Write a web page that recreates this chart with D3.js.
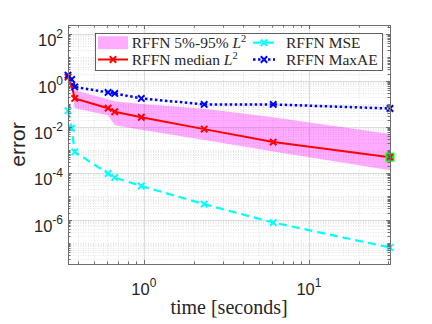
<!DOCTYPE html>
<html lang="en">
<head>
    <meta charset="UTF-8">
    <title>RFFN error vs time</title>
    <style>
        body {
            margin: 0;
            background: #fff;
        }

        svg {
            display: block;
        }
    </style>
</head>
<body>
    <div id="chart"></div>

    <script src="https://d3js.org/d3.v7.min.js"></script>
    <script>
        // training time of each run (seconds)
        const times = [0.347, 0.365, 0.381, 0.607, 0.666, 0.965, 2.32, 6.08, 31.0]
        // L2 error, median and 5% / 95% quantiles
        const medianL2 = [1.40, 0.63, 0.169, 0.064, 0.045, 0.026, 0.008, 0.0022, 0.00049]
        const q05L2 = [1.27, 0.57, 0.064, 0.032, 0.0118, 0.0075, 0.0027, 0.00086, 0.000135]
        const q95L2 = [1.55, 0.70, 0.385, 0.157, 0.129, 0.096, 0.060, 0.026, 0.0049]
        const mse = [0.050, 0.0088, 8.3e-4, 9.7e-5, 6.5e-5, 2.8e-5, 4.6e-6, 7.4e-7, 6.2e-8]
        const maxAE = [1.71, 1.12, 0.53, 0.306, 0.277, 0.169, 0.093, 0.093, 0.062]
        // highlighted run
        const bestIndex = 8

        const xMajorTicks = [1, 10]
        const yMajorTicks = [1e-6, 1e-4, 1e-2, 1, 1e2]

        const legendLabels = [
            ['RFFN 5%-95% ', 'L', '2'],
            ['RFFN median ', 'L', '2'],
            ['RFFN MSE'],
            ['RFFN MaxAE']
        ]

        const width = 432
        const height = 324
        const plot = { left: 68, right: 390, top: 25, bottom: 264 }
        const axisColor = '#6e6e6e'
        const majorGridColor = '#dcdcdc'
        const minorGridColor = '#e6e6e6'
        const sansFont = '"Liberation Sans", Arial, sans-serif'
        const serifFont = '"Liberation Serif", "Times New Roman", serif'

        // half pixel so 1px lines stay crisp
        const px = v => Math.round(v) + 0.5

        const x = d3.scaleLog()
            .domain([0.347, 31.0])
            .range([plot.left, plot.right])

        const y = d3.scaleLog()
            .domain([1.2e-8, 250])
            .range([plot.bottom, plot.top])

        const svg = d3.select('#chart')
            .append('svg')
            .attr('width', width)
            .attr('height', height)

        const xMinorTicks = minorTicks(x, xMajorTicks)
        const yMinorTicks = minorTicks(y, yMajorTicks)

        drawGrid()
        drawChart()
        drawAxes()
        drawLegend()

        function minorTicks(scale, majors) {
            const [lo, hi] = scale.domain()
            const out = []
            for (let e = Math.floor(Math.log10(lo)); e <= Math.ceil(Math.log10(hi)); e++) {
                for (let k = 1; k <= 9; k++) {
                    const v = k * Math.pow(10, e)
                    if (v < lo || v > hi) continue
                    if (majors.some(m => Math.abs(m - v) / m < 1e-9)) continue
                    out.push(v)
                }
            }
            return out
        }

        function drawGrid() {
            const g = svg.append('g').attr('class', 'grid').attr('fill', 'none')

            g.selectAll('.xminor').data(xMinorTicks).enter().append('line')
                .attr('x1', d => px(x(d))).attr('x2', d => px(x(d)))
                .attr('y1', plot.top).attr('y2', plot.bottom)
                .attr('stroke', minorGridColor).attr('stroke-dasharray', '1,1.5')

            g.selectAll('.yminor').data(yMinorTicks).enter().append('line')
                .attr('y1', d => px(y(d))).attr('y2', d => px(y(d)))
                .attr('x1', plot.left).attr('x2', plot.right)
                .attr('stroke', minorGridColor).attr('stroke-dasharray', '1,1.5')

            g.selectAll('.xmajor').data(xMajorTicks).enter().append('line')
                .attr('x1', d => px(x(d))).attr('x2', d => px(x(d)))
                .attr('y1', plot.top).attr('y2', plot.bottom)
                .attr('stroke', majorGridColor)

            g.selectAll('.ymajor').data(yMajorTicks).enter().append('line')
                .attr('y1', d => px(y(d))).attr('y2', d => px(y(d)))
                .attr('x1', plot.left).attr('x2', plot.right)
                .attr('stroke', majorGridColor)
        }

        function crossPath(s) {
            return `M${-s},${-s}L${s},${s}M${-s},${s}L${s},${-s}`
        }

        function drawSeries(values, color, dash, lineWidth) {
            const line = d3.line()
                .x((d, i) => x(times[i]))
                .y(d => y(d))

            const g = svg.append('g')
            g.append('path')
                .datum(values)
                .attr('d', line)
                .attr('fill', 'none')
                .attr('stroke', color)
                .attr('stroke-width', lineWidth)
                .attr('stroke-dasharray', dash)

            g.selectAll('.mk').data(values).enter().append('path')
                .attr('d', crossPath(3.2))
                .attr('transform', (d, i) => `translate(${x(times[i])},${y(d)})`)
                .attr('fill', 'none')
                .attr('stroke', color)
                .attr('stroke-width', 2)
        }

        function drawChart() {
            const band = d3.area()
                .x((d, i) => x(times[i]))
                .y0((d, i) => y(q05L2[i]))
                .y1((d, i) => y(q95L2[i]))

            svg.append('path')
                .datum(times)
                .attr('d', band)
                .attr('fill', 'rgb(255, 0, 255)')
                .attr('fill-opacity', 0.33)

            drawSeries(medianL2, '#ff0000', null, 2)
            drawSeries(mse, '#00ffff', '8,5', 2.2)
            drawSeries(maxAE, '#0000ff', '2.5,2.5', 2.5)

            // highlighted best run
            const bx = x(times[bestIndex])
            const by = y(medianL2[bestIndex])
            svg.append('rect')
                .attr('x', bx - 4.5).attr('y', by - 4.5)
                .attr('width', 9).attr('height', 9)
                .attr('fill', '#00ff00')
            svg.append('path')
                .attr('d', crossPath(2.8))
                .attr('transform', `translate(${bx},${by})`)
                .attr('fill', 'none')
                .attr('stroke', '#ff0000')
                .attr('stroke-width', 2)
        }

        function powerLabel(sel, exp) {
            sel.append('tspan').text('10')
            sel.append('tspan')
                .attr('dy', -8)
                .attr('font-size', 12)
                .text(exp)
        }

        function drawAxes() {
            const g = svg.append('g').attr('class', 'axes')

            g.append('rect')
                .attr('x', px(plot.left)).attr('y', px(plot.top))
                .attr('width', Math.round(plot.right) - Math.round(plot.left))
                .attr('height', Math.round(plot.bottom) - Math.round(plot.top))
                .attr('fill', 'none')
                .attr('stroke', axisColor)

            const ticks = g.append('g').attr('stroke', axisColor)
            const xt = xMajorTicks.map(v => ({ v, len: 4 })).concat(xMinorTicks.map(v => ({ v, len: 2.5 })))
            const yt = yMajorTicks.map(v => ({ v, len: 4 })).concat(yMinorTicks.map(v => ({ v, len: 2.5 })))

            xt.forEach(t => {
                const xx = px(x(t.v))
                ticks.append('line').attr('x1', xx).attr('x2', xx)
                    .attr('y1', plot.bottom).attr('y2', plot.bottom - t.len)
                ticks.append('line').attr('x1', xx).attr('x2', xx)
                    .attr('y1', plot.top).attr('y2', plot.top + t.len)
            })
            yt.forEach(t => {
                const yy = px(y(t.v))
                ticks.append('line').attr('y1', yy).attr('y2', yy)
                    .attr('x1', plot.left).attr('x2', plot.left + t.len)
                ticks.append('line').attr('y1', yy).attr('y2', yy)
                    .attr('x1', plot.right).attr('x2', plot.right - t.len)
            })

            g.selectAll('.xlab').data(xMajorTicks).enter().append('text')
                .attr('x', d => x(d))
                .attr('y', plot.bottom + 31)
                .attr('text-anchor', 'middle')
                .attr('font-family', sansFont)
                .attr('font-size', 16.5)
                .attr('fill', '#262626')
                .each(function (d) { powerLabel(d3.select(this), Math.round(Math.log10(d))) })

            g.selectAll('.ylab').data(yMajorTicks).enter().append('text')
                .attr('x', plot.left - 5)
                .attr('y', d => y(d) + 12)
                .attr('text-anchor', 'end')
                .attr('font-family', sansFont)
                .attr('font-size', 16.5)
                .attr('fill', '#262626')
                .each(function (d) { powerLabel(d3.select(this), Math.round(Math.log10(d))) })

            svg.append('text')
                .attr('x', (plot.left + plot.right) / 2)
                .attr('y', 314)
                .attr('text-anchor', 'middle')
                .attr('font-family', serifFont)
                .attr('font-size', 20)
                .attr('fill', '#262626')
                .text('time [seconds]')

            svg.append('text')
                .attr('transform', `translate(25, ${(plot.top + plot.bottom) / 2}) rotate(-90)`)
                .attr('text-anchor', 'middle')
                .attr('font-family', sansFont)
                .attr('font-size', 21)
                .attr('fill', '#262626')
                .text('error')
        }

        function drawLegend() {
            const box = { x: 95, y: 33, w: 287, h: 37 }
            const rows = [42.7, 59.5]
            const cols = [{ lx: 98, tx: 131.7 }, { lx: 253, tx: 286 }]
            const lineLen = 22

            const g = svg.append('g').attr('class', 'legend')
            g.append('rect')
                .attr('x', px(box.x)).attr('y', px(box.y))
                .attr('width', box.w).attr('height', box.h)
                .attr('fill', '#fff')
                .attr('stroke', '#3a3a3a')
                .attr('stroke-width', 0.8)

            // band swatch
            g.append('rect')
                .attr('x', cols[0].lx).attr('y', rows[0] - 6.5)
                .attr('width', 30).attr('height', 13)
                .attr('fill', 'rgb(255, 0, 255)')
                .attr('fill-opacity', 0.33)

            const items = [
                { col: 0, row: 1, color: '#ff0000', dash: null, w: 2, len: 30 },
                { col: 1, row: 0, color: '#00ffff', dash: '8,5', w: 2.2, len: lineLen },
                { col: 1, row: 1, color: '#0000ff', dash: '2.5,2.5', w: 2.5, len: lineLen }
            ]
            items.forEach(it => {
                const x0 = cols[it.col].lx
                const yy = rows[it.row]
                g.append('line')
                    .attr('x1', x0).attr('x2', x0 + it.len)
                    .attr('y1', yy).attr('y2', yy)
                    .attr('stroke', it.color)
                    .attr('stroke-width', it.w)
                    .attr('stroke-dasharray', it.dash)
                g.append('path')
                    .attr('d', crossPath(3.2))
                    .attr('transform', `translate(${x0 + it.len / 2},${yy})`)
                    .attr('fill', 'none')
                    .attr('stroke', it.color)
                    .attr('stroke-width', 2)
            })

            const slots = [[0, 0], [0, 1], [1, 0], [1, 1]]
            legendLabels.forEach((parts, i) => {
                const [c, r] = slots[i]
                const t = g.append('text')
                    .attr('x', cols[c].tx)
                    .attr('y', rows[r] + 5)
                    .attr('font-family', serifFont)
                    .attr('font-size', 15.5)
                    .attr('fill', '#262626')
                t.append('tspan').text(parts[0])
                if (parts.length > 1) {
                    t.append('tspan').attr('font-style', 'italic').text(parts[1])
                    t.append('tspan').attr('dy', -6).attr('font-size', 10.5).text(parts[2])
                }
            })
        }
    </script>
</body>
</html>
